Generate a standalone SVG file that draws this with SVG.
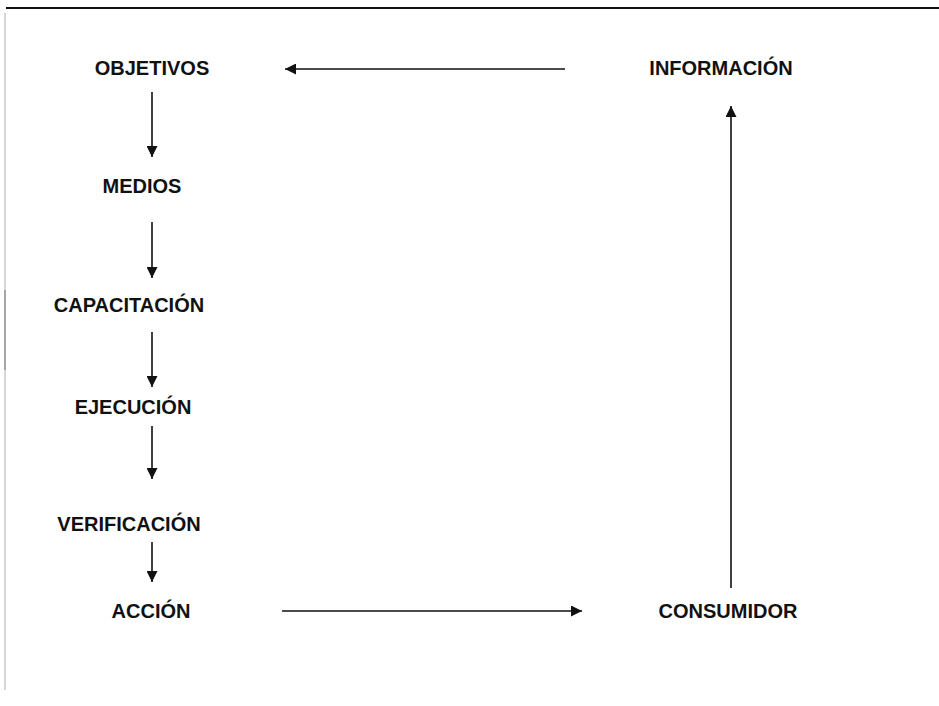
<svg xmlns="http://www.w3.org/2000/svg" width="939" height="706" viewBox="0 0 939 706">
<style>
.t{font-family:"Liberation Sans",Arial,sans-serif;font-weight:bold;font-size:20px;fill:#111;text-anchor:middle}
.c{stroke:#111;stroke-width:1.6;fill:none}
</style>
<defs>
<marker id="ah" viewBox="0 0 10 10" refX="10" refY="5" markerWidth="12" markerHeight="11" markerUnits="userSpaceOnUse" orient="auto">
<path d="M0,0 L10,5 L0,10 Z" fill="#111"/>
</marker>
</defs>
<rect width="939" height="706" fill="#fff"/>
<line x1="6" y1="8" x2="939" y2="8" stroke="#111" stroke-width="2"/>
<line x1="5" y1="13" x2="5" y2="690" stroke="#bbb" stroke-width="1.2"/>
<line x1="5" y1="290" x2="5" y2="370" stroke="#888" stroke-width="1.2"/>
<g id="objetivos"><text class="t" x="152" y="75">OBJETIVOS</text></g>
<g id="informacion"><text class="t" x="721" y="75">INFORMACIÓN</text></g>
<g id="medios"><text class="t" x="142" y="193">MEDIOS</text></g>
<g id="capacitacion"><text class="t" x="129" y="312">CAPACITACIÓN</text></g>
<g id="ejecucion"><text class="t" x="133" y="414">EJECUCIÓN</text></g>
<g id="verificacion"><text class="t" x="129" y="531">VERIFICACIÓN</text></g>
<g id="accion"><text class="t" x="151" y="618">ACCIÓN</text></g>
<g id="consumidor"><text class="t" x="728" y="618">CONSUMIDOR</text></g>
<g id="connectors">
<line class="c" x1="565" y1="69" x2="285" y2="69" marker-end="url(#ah)"/>
<line class="c" x1="152" y1="92" x2="152" y2="157" marker-end="url(#ah)"/>
<line class="c" x1="152" y1="222" x2="152" y2="278" marker-end="url(#ah)"/>
<line class="c" x1="152" y1="332" x2="152" y2="387" marker-end="url(#ah)"/>
<line class="c" x1="152" y1="426" x2="152" y2="479" marker-end="url(#ah)"/>
<line class="c" x1="152" y1="542" x2="152" y2="582" marker-end="url(#ah)"/>
<line class="c" x1="282" y1="611" x2="582" y2="611" marker-end="url(#ah)"/>
<line class="c" x1="731" y1="588" x2="731" y2="106" marker-end="url(#ah)"/>
</g>
</svg>
